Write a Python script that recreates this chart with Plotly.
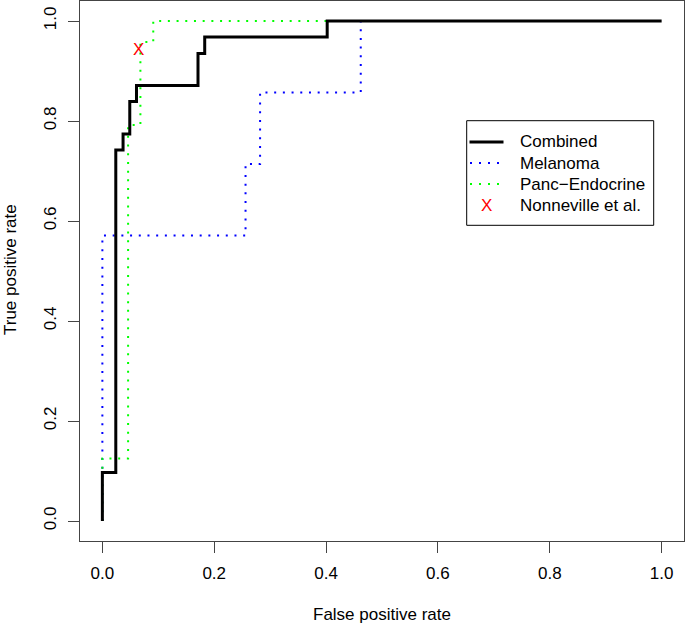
import plotly.graph_objects as go

# ---- data (ROC curve vertices) ----
combined_fpr = [0.0, 0.0, 0.024, 0.024, 0.037, 0.037, 0.049, 0.049, 0.061, 0.061, 0.171, 0.171, 0.183, 0.183, 0.402, 0.402, 1.0]
combined_tpr = [0.0, 0.097, 0.097, 0.742, 0.742, 0.774, 0.774, 0.839, 0.839, 0.871, 0.871, 0.935, 0.935, 0.968, 0.968, 1.0, 1.0]

melanoma_fpr = [0.0, 0.0, 0.256, 0.256, 0.282, 0.282, 0.462, 0.462, 1.0]
melanoma_tpr = [0.0, 0.571, 0.571, 0.714, 0.714, 0.857, 0.857, 1.0, 1.0]

panc_fpr = [0.0, 0.0, 0.046, 0.046, 0.068, 0.068, 0.091, 0.091, 1.0]
panc_tpr = [0.0, 0.125, 0.125, 0.792, 0.792, 0.958, 0.958, 1.0, 1.0]

nonneville_fpr = [0.065]
nonneville_tpr = [0.941]

series_names = ["Combined", "Melanoma", "Panc\u2212Endocrine", "Nonneville et al."]
tick_vals = [0.0, 0.2, 0.4, 0.6, 0.8, 1.0]
tick_text = ["0.0", "0.2", "0.4", "0.6", "0.8", "1.0"]

FONT = "Liberation Sans, Arial, Helvetica, sans-serif"
FS = 17
W, H = 685, 625
ML, MR, MT, MB = 80, 1, 1, 84
PW, PH = W - ML - MR, H - MT - MB

def px(x):
    return (x - ML) / PW

def py(y):
    return (H - MB - y) / PH

DOT = "2px,6.7px"

fig = go.Figure()
fig.add_trace(go.Scatter(x=melanoma_fpr, y=melanoma_tpr, mode="lines",
                         line=dict(color="#0000FF", width=2, dash=DOT),
                         name=series_names[1], showlegend=False))
fig.add_trace(go.Scatter(x=panc_fpr, y=panc_tpr, mode="lines",
                         line=dict(color="#00FF00", width=2, dash=DOT),
                         name=series_names[2], showlegend=False))
fig.add_trace(go.Scatter(x=combined_fpr, y=combined_tpr, mode="lines",
                         line=dict(color="black", width=3),
                         name=series_names[0], showlegend=False))
fig.add_trace(go.Scatter(x=nonneville_fpr, y=nonneville_tpr, mode="text",
                         text=["X"], textposition="middle center",
                         textfont=dict(color="red", size=FS, family=FONT),
                         name=series_names[3], showlegend=False))

# ---- manual legend (R style) ----
shapes = []
annotations = []
lx0, lx1, ly0, ly1 = 466.7, 653.7, 120.7, 225.3
shapes.append(dict(type="rect", xref="paper", yref="paper",
                   x0=px(lx0), x1=px(lx1), y0=py(ly1), y1=py(ly0),
                   line=dict(color="black", width=1), fillcolor="white", layer="above"))
rows = [142, 163, 184, 205]
shapes.append(dict(type="line", xref="paper", yref="paper",
                   x0=px(469.5), x1=px(503.5), y0=py(rows[0]), y1=py(rows[0]),
                   line=dict(color="black", width=3), layer="above"))
shapes.append(dict(type="line", xref="paper", yref="paper",
                   x0=px(470), x1=px(502), y0=py(rows[1]), y1=py(rows[1]),
                   line=dict(color="#0000FF", width=2, dash="2px,7px"), layer="above"))
shapes.append(dict(type="line", xref="paper", yref="paper",
                   x0=px(470), x1=px(502), y0=py(rows[2]), y1=py(rows[2]),
                   line=dict(color="#00FF00", width=2, dash="2px,7px"), layer="above"))
annotations.append(dict(x=px(486.7), y=py(rows[3]), xref="paper", yref="paper",
                        text="X", showarrow=False, xanchor="center", yanchor="middle",
                        font=dict(color="red", size=FS, family=FONT)))
for r, name in zip(rows, series_names):
    annotations.append(dict(x=px(518), y=py(r), xref="paper", yref="paper",
                            text=name, showarrow=False, xanchor="left", yanchor="middle",
                            font=dict(color="black", size=FS, family=FONT)))

# axis titles
annotations.append(dict(x=px(382), y=py(614), xref="paper", yref="paper",
                        text="False positive rate", showarrow=False,
                        xanchor="center", yanchor="middle",
                        font=dict(color="black", size=FS, family=FONT)))
annotations.append(dict(x=px(10), y=py(270), xref="paper", yref="paper",
                        text="True positive rate", showarrow=False, textangle=-90,
                        xanchor="center", yanchor="middle",
                        font=dict(color="black", size=FS, family=FONT)))

axis_common = dict(range=[-0.04, 1.04], showgrid=False, zeroline=False,
                   showline=True, mirror=True, linecolor="#444", linewidth=1,
                   ticks="outside", ticklen=11, tickcolor="#444", tickwidth=1,
                   tickvals=tick_vals, ticktext=tick_text,
                   tickfont=dict(color="black", size=FS, family=FONT))

fig.update_layout(
    width=W, height=H,
    margin=dict(l=ML, r=MR, t=MT, b=MB),
    plot_bgcolor="white", paper_bgcolor="white",
    xaxis=dict(**axis_common, ticklabelstandoff=6),
    yaxis=dict(**axis_common, tickangle=-90, ticklabelstandoff=5),
    shapes=shapes, annotations=annotations,
    showlegend=False,
    font=dict(family=FONT, color="black"),
)

fig.write_html("out.html", config={"displayModeBar": False},
               post_script="document.body.style.margin='0';")
